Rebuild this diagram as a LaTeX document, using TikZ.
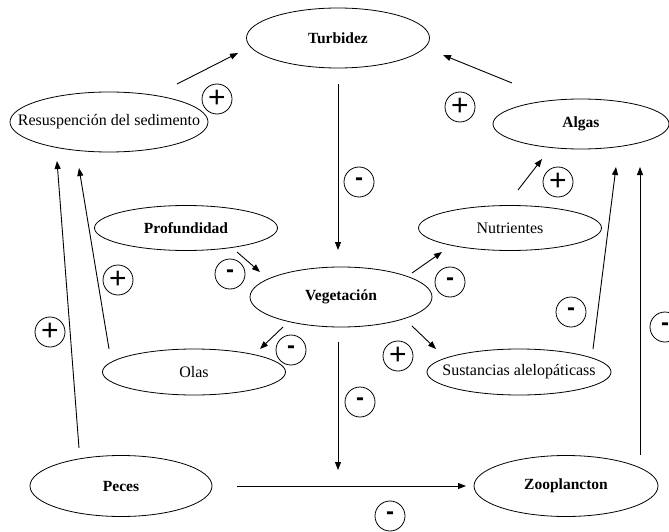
\documentclass[tikz,border=0pt]{standalone}
\usepackage{fontspec}
\setmainfont{Liberation Serif}
\newfontfamily\signfont{Liberation Sans}
\usetikzlibrary{arrows.meta,shapes.geometric}
\newcommand{\zw}[1]{\makebox[0pt]{#1}}
\tikzset{
  box/.style={ellipse,draw,line width=0.8pt,inner sep=0pt,font=\fontsize{15.5}{17}\selectfont},
  sign/.style={circle,draw,line width=0.8pt,minimum size=30pt,inner sep=0pt},
  plus/.style={sign,font=\signfont\fontsize{30}{30}\selectfont},
  minus/.style={sign,font=\signfont\bfseries\fontsize{24}{24}\selectfont},
  link/.style={line width=0.9pt,-{Triangle[length=8pt,width=6pt]}}
}
\begin{document}
\begin{tikzpicture}[x=1pt,y=-1pt]
\useasboundingbox (0,0) rectangle (669,532);
\fill[white] (0,0) rectangle (669,532);
% nodes
\node[box,minimum width=183pt,minimum height=60pt] (turb) at (338,38) {\zw{\bfseries Turbidez}};
\node[box,minimum width=198pt,minimum height=60pt] (res) at (109,122) {\zw{\fontsize{16}{17}\selectfont Resuspención del sedimento}};
\node[box,minimum width=176pt,minimum height=50pt] (alg) at (581,124) {\zw{\bfseries Algas}};
\node[box,minimum width=183pt,minimum height=45pt] (prof) at (186,228) {\zw{\bfseries Profundidad}};
\node[box,minimum width=183pt,minimum height=45pt] (nut) at (510,228) {\zw{\fontsize{16}{17}\selectfont Nutrientes}};
\node[box,minimum width=182pt,minimum height=60pt] (veg) at (341,297) {\zw{\bfseries Vegetación}};
\node[box,minimum width=183pt,minimum height=46pt] (olas) at (194,372) {\zw{\fontsize{16}{17}\selectfont Olas}};
\node[box,minimum width=184pt,minimum height=46pt] (sus) at (519,372) {\zw{\fontsize{16}{17}\selectfont Sustancias alelopáticass}};
\node[box,minimum width=182pt,minimum height=61pt] (pec) at (121,486) {\zw{\bfseries Peces}};
\node[box,minimum width=184pt,minimum height=61pt] (zoo) at (566,486) {\zw{\bfseries Zooplancton}};
% endpoints
\coordinate (a1) at (177,84);  \coordinate (b1) at (238,53);
\coordinate (a2) at (338,84);  \coordinate (b2) at (338,250);
\coordinate (a3) at (512,83);  \coordinate (b3) at (443,55);
\coordinate (a4) at (518,190); \coordinate (b4) at (542,159);
\coordinate (a5) at (593,349); \coordinate (b5) at (616,167);
\coordinate (a6) at (640,455); \coordinate (b6) at (640,167);
\coordinate (a7) at (412,273); \coordinate (b7) at (442,252);
\coordinate (a8) at (237,252); \coordinate (b8) at (260,272);
\coordinate (a9) at (283,327); \coordinate (b9) at (260,349);
\coordinate (a10) at (412,326); \coordinate (b10) at (436,349);
\coordinate (a11) at (338,342); \coordinate (b11) at (338,470);
\coordinate (a12) at (237,486); \coordinate (b12) at (466,486);
\coordinate (a13) at (79,448); \coordinate (b13) at (57,161);
\coordinate (a14) at (109,349); \coordinate (b14) at (79,168);
% connectors
\draw[link] (a1) -- (b1);
\draw[link] (a2) -- (b2);
\draw[link] (a3) -- (b3);
\draw[link] (a4) -- (b4);
\draw[link] (a5) -- (b5);
\draw[link] (a6) -- (b6);
\draw[link] (a7) -- (b7);
\draw[link] (a8) -- (b8);
\draw[link] (a9) -- (b9);
\draw[link] (a10) -- (b10);
\draw[link] (a11) -- (b11);
\draw[link] (a12) -- (b12);
\draw[link] (a13) -- (b13);
\draw[link] (a14) -- (b14);
% signs
\node[plus] (s1) at (217,99) {+};
\node[minus] (s2) at (359,182) {-};
\node[plus] (s3) at (460,107) {+};
\node[plus] (s4) at (558,182) {+};
\node[minus] (s5) at (571,312) {-};
\node[minus] (s6) at (665,327) {-};
\node[minus] (s7) at (450,282) {-};
\node[minus] (s8) at (230,274) {-};
\node[minus] (s9) at (291,350) {-};
\node[plus] (s10) at (398,356) {+};
\node[minus] (s11) at (360,402) {-};
\node[minus] (s12) at (390,516) {-};
\node[plus] (s13) at (50,332) {+};
\node[plus] (s14) at (118,280) {+};
\end{tikzpicture}
\end{document}
